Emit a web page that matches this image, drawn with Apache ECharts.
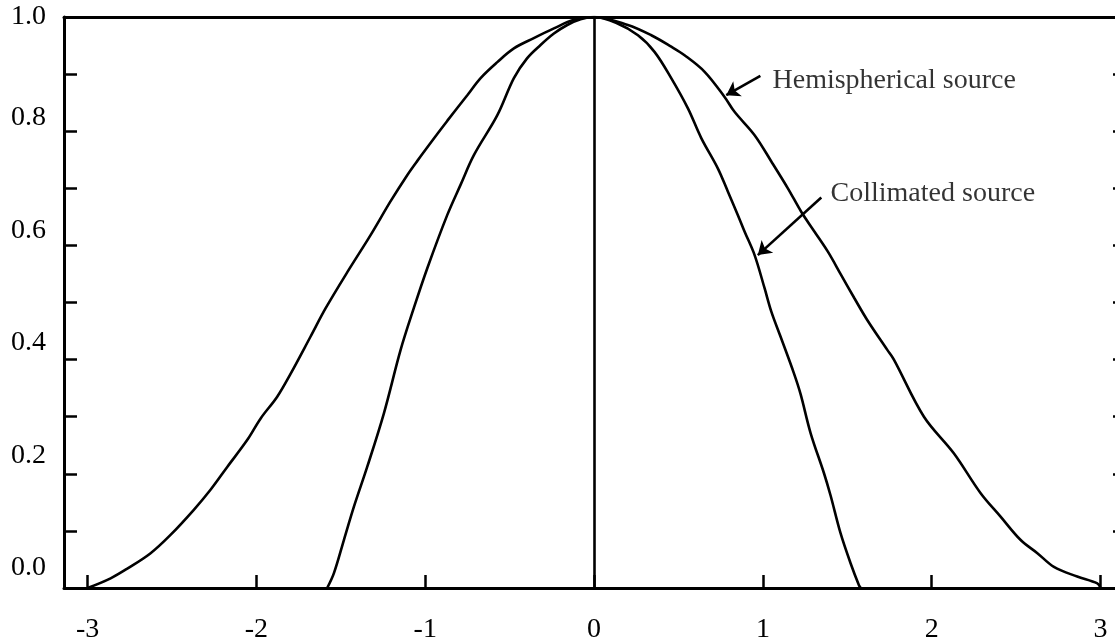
<!DOCTYPE html>
<html>
<head>
<meta charset="utf-8">
<script src="https://cdn.jsdelivr.net/npm/echarts@6/dist/echarts.min.js"></script>
<style>
  html, body { margin: 0; padding: 0; background: #ffffff; }
  #chart { width: 1115px; height: 643px; }
</style>
</head>
<body>
<div id="chart"></div>
<script>
// Relative intensity profiles, x = off-axis position, y = normalised intensity
const hemisphericalX = [-3.00, -2.864, -2.765, -2.627, -2.509, -2.371, -2.272, -2.173, -2.055, -1.975, -1.877, -1.798, -1.680, -1.59,
  -1.46, -1.324, -1.206, -1.107, -1.047, -0.929, -0.870, -0.751, -0.672, -0.573, -0.475, -0.357, -0.238, -0.12, 0,
  0.200, 0.339, 0.457, 0.536, 0.655, 0.773, 0.832, 0.951, 1.050, 1.148, 1.227, 1.306, 1.385, 1.464, 1.543, 1.619,
  1.737, 1.776, 1.954, 2.131, 2.290, 2.408, 2.527, 2.626, 2.724, 2.862, 2.981, 3.00];
const hemisphericalY = [0.000, 0.017, 0.034, 0.061, 0.093, 0.137, 0.172, 0.212, 0.259, 0.297, 0.335, 0.375, 0.440, 0.490,
  0.554, 0.618, 0.677, 0.723, 0.748, 0.795, 0.818, 0.863, 0.893, 0.921, 0.945, 0.963, 0.980, 0.995, 1.000,
  0.986, 0.968, 0.948, 0.933, 0.904, 0.860, 0.834, 0.793, 0.747, 0.700, 0.659, 0.624, 0.589, 0.548, 0.507, 0.469,
  0.417, 0.400, 0.300, 0.236, 0.166, 0.125, 0.084, 0.061, 0.037, 0.020, 0.008, 0.000];

const collimatedX = [-1.581, -1.541, -1.482, -1.423, -1.344, -1.245, -1.146, -1.068, -0.988, -0.870, -0.791, -0.712,
  -0.573, -0.475, -0.396, -0.317, -0.238, -0.159, -0.08, 0,
  0.130, 0.260, 0.358, 0.457, 0.556, 0.635, 0.733, 0.793, 0.852, 0.892, 0.951, 1.010, 1.050, 1.105, 1.184, 1.223,
  1.283, 1.362, 1.401, 1.460, 1.520, 1.569, 1.58];
const collimatedY = [0.000, 0.026, 0.084, 0.142, 0.212, 0.306, 0.417, 0.490, 0.560, 0.653, 0.706, 0.758,
  0.828, 0.893, 0.928, 0.951, 0.971, 0.986, 0.996, 1.000,
  0.990, 0.968, 0.939, 0.893, 0.840, 0.788, 0.735, 0.694, 0.653, 0.624, 0.583, 0.525, 0.484, 0.440, 0.376, 0.340,
  0.271, 0.201, 0.162, 0.096, 0.043, 0.005, 0.000];

// Axis ticks and labels
const xTickValues = [-3, -2, -1, 0, 1, 2, 3];
const yLowerLabels = [0, 0.2, 0.4, 0.6, 0.8];
const yTopLabel = [1.0];

// Callout texts, where they sit, and their arrows (data coordinates)
const noteTexts = ['Hemispherical source', 'Collimated source'];
const notePositions = [[1.054, 0.889], [1.398, 0.690]];
const arrowTails = [[0.985, 0.897], [1.346, 0.684]];
const arrowHeads = [[0.783, 0.863], [0.970, 0.583]];

const font = '"Liberation Serif", "Times New Roman", serif';
const ink = '#000000';

const zip = (xs, ys) => xs.map((x, i) => [x, ys[i]]);

const chart = echarts.init(document.getElementById('chart'), null, { renderer: 'canvas' });

chart.setOption({
  backgroundColor: '#ffffff',
  animation: false,
  grid: { left: 64, top: 17, width: 1062, height: 571, containLabel: false, outerBoundsMode: 'none' },
  xAxis: [
    {
      type: 'value', min: -3.14, max: 3.151, position: 'bottom',
      axisLine: { show: true, onZero: false, lineStyle: { color: ink, width: 3 } },
      axisTick: { show: true, inside: true, length: 13, customValues: xTickValues, lineStyle: { color: ink, width: 2.5 } },
      axisLabel: {
        show: true, customValues: xTickValues, margin: 28,
        color: ink, fontFamily: font, fontSize: 28
      },
      splitLine: { show: false }
    },
    {
      type: 'value', min: -3.14, max: 3.151, position: 'top',
      axisLine: { show: true, onZero: false, lineStyle: { color: ink, width: 3 } },
      axisTick: { show: false }, axisLabel: { show: false }, splitLine: { show: false }
    }
  ],
  yAxis: [
    {
      type: 'value', min: 0, max: 1, interval: 0.1, position: 'left',
      axisLine: { show: true, onZero: false, lineStyle: { color: ink, width: 3 } },
      axisTick: { show: true, inside: true, length: 13, lineStyle: { color: ink, width: 2.5 } },
      axisLabel: {
        show: true, customValues: yTopLabel, margin: 18,
        color: ink, fontFamily: font, fontSize: 28,
        formatter: v => v.toFixed(1)
      },
      splitLine: { show: false }
    },
    {
      type: 'value', min: 0, max: 1, interval: 0.1, position: 'right',
      axisLine: { show: true, onZero: false, lineStyle: { color: ink, width: 3 } },
      axisTick: { show: true, inside: true, length: 13, lineStyle: { color: ink, width: 2.5 } },
      axisLabel: { show: false },
      splitLine: { show: false }
    },
    {
      // label-only scale: the lower tick labels sit a little above their ticks
      type: 'value', min: -0.0356, max: 0.9796, position: 'left',
      axisLine: { show: false }, axisTick: { show: false }, splitLine: { show: false },
      axisLabel: {
        show: true, customValues: yLowerLabels, margin: 18,
        color: ink, fontFamily: font, fontSize: 28,
        formatter: v => v.toFixed(1)
      }
    }
  ],
  series: [
    {
      name: 'Hemispherical source', type: 'line', xAxisIndex: 0, yAxisIndex: 0,
      data: zip(hemisphericalX, hemisphericalY),
      showSymbol: false, smooth: 0.35,
      lineStyle: { color: ink, width: 2.6 },
      markLine: {
        silent: true, symbol: 'none',
        label: { show: false },
        lineStyle: { color: ink, width: 2.6, type: 'solid' },
        data: [{ xAxis: 0 }]
      }
    },
    {
      name: 'Collimated source', type: 'line', xAxisIndex: 0, yAxisIndex: 0,
      data: zip(collimatedX, collimatedY),
      showSymbol: false, smooth: 0.35,
      lineStyle: { color: ink, width: 2.6 }
    },
    {
      name: 'arrows', type: 'lines', coordinateSystem: 'cartesian2d', xAxisIndex: 0, yAxisIndex: 0,
      symbol: ['none', 'arrow'], symbolSize: [0, 13],
      lineStyle: { color: ink, width: 2.6, opacity: 1, curveness: 0 },
      data: arrowTails.map((t, i) => ({ coords: [t, arrowHeads[i]] }))
    },
    {
      name: 'notes', type: 'scatter', xAxisIndex: 0, yAxisIndex: 0,
      symbolSize: 1, itemStyle: { color: 'rgba(0,0,0,0)' },
      label: {
        show: true, position: 'right', distance: 0,
        color: ink, fontFamily: font, fontSize: 28,
        formatter: p => noteTexts[p.dataIndex]
      },
      data: notePositions
    }
  ]
});
</script>
</body>
</html>
